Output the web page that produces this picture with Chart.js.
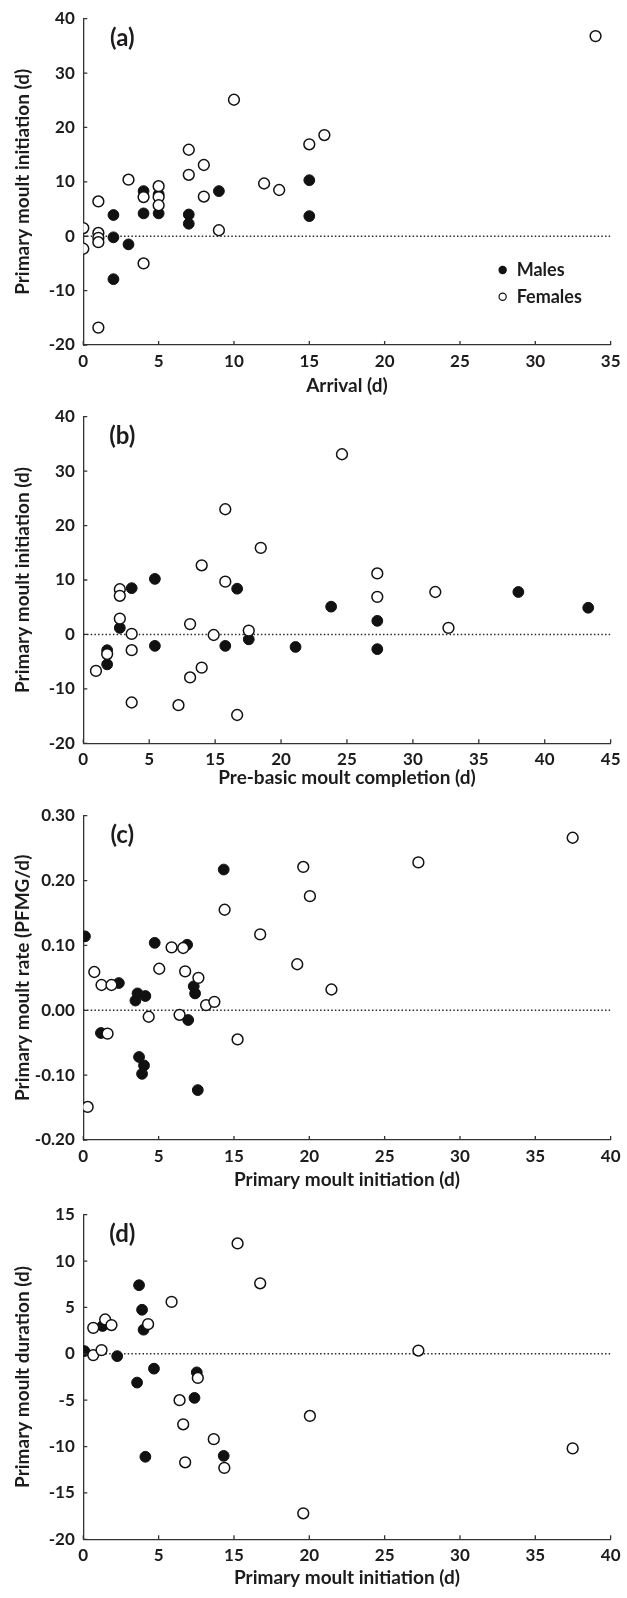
<!DOCTYPE html>
<html>
<head>
<meta charset="utf-8">
<script src="https://cdn.jsdelivr.net/npm/chart.js@4.4.0/dist/chart.umd.min.js"></script>
<style>
  body { margin: 0; background: #fff; }
  #wrap { width: 627px; }
  canvas { display: block; }
</style>
</head>
<body>
<div id="wrap">
  <canvas id="panelA" width="627" height="398"></canvas>
  <canvas id="panelB" width="627" height="399"></canvas>
  <canvas id="panelC" width="627" height="399"></canvas>
  <canvas id="panelD" width="627" height="402"></canvas>
</div>
<script>
// x tick labels, one per 5-unit step of each axis
const ticksArrival = ['0', '5', '10', '15', '20', '25', '30', '35'];
const ticksCompletion = ['0', '5', '15', '20', '25', '30', '35', '40', '45'];
const ticksInitiation = ['0', '5', '15', '20', '25', '30', '35', '40'];

// (a) arrival vs primary moult initiation
const arrivalMalesX = [2, 2, 2, 3, 4, 4, 5, 5, 7, 7, 9, 15, 15];
const arrivalMalesY = [3.9, -0.2, -7.9, -1.5, 8.3, 4.2, 7.7, 4.2, 4.0, 2.3, 8.3, 10.3, 3.7];
const arrivalFemalesX = [0, 0, 1, 1, 1, 1, 1, 3, 4, 4, 5, 5, 5, 7, 7, 8, 8, 9, 10, 12, 13, 15, 16, 34];
const arrivalFemalesY = [1.5, -2.3, 6.4, 0.6, -0.3, -1.1, -16.8, 10.4, 7.2, -5.0, 9.2, 7.2, 5.7, 15.9, 11.3, 13.1, 7.3, 1.1, 25.1, 9.7, 8.5, 16.9, 18.6, 36.8];

// (b) pre-basic moult completion vs primary moult initiation
const completionMalesX = [1.81, 1.81, 2.77, 3.67, 5.43, 5.43, 10.77, 11.67, 12.55, 16.1, 18.8, 22.3, 22.3, 33.0, 38.3];
const completionMalesY = [-2.9, -5.5, 1.2, 8.5, 10.2, -2.1, -2.1, 8.4, -0.9, -2.3, 5.1, 2.5, -2.7, 7.8, 4.9];
const completionFemalesX = [0.96, 1.81, 2.77, 2.77, 2.77, 3.67, 3.67, 3.67, 7.22, 8.1, 8.1, 8.98, 8.98, 9.89, 10.77, 10.77, 11.67, 12.55, 13.46, 19.62, 22.3, 22.3, 26.7, 27.7];
const completionFemalesY = [-6.7, -3.6, 8.3, 7.1, 2.9, 0.1, -2.9, -12.5, -13.0, 1.9, -7.9, 12.7, -6.1, -0.1, 23.0, 9.7, -14.8, 0.7, 15.9, 33.1, 11.2, 6.9, 7.8, 1.2];

// (c) primary moult initiation vs moult rate
const rateMalesX = [0.11, 1.17, 2.36, 3.46, 3.6, 4.12, 3.7, 4.03, 3.9, 4.74, 6.89, 6.96, 7.33, 7.42, 7.6, 9.32];
const rateMalesY = [0.114, -0.035, 0.042, 0.015, 0.026, 0.022, -0.072, -0.085, -0.098, 0.104, 0.101, -0.015, 0.037, 0.026, -0.123, 0.217];
const rateFemalesX = [0.29, 0.73, 1.21, 1.87, 1.61, 4.34, 5.04, 5.86, 6.63, 6.39, 6.76, 7.64, 8.15, 8.7, 9.38, 10.24, 11.74, 14.2, 14.6, 15.04, 16.47, 22.24, 32.48];
const rateFemalesY = [-0.149, 0.059, 0.039, 0.039, -0.036, -0.010, 0.064, 0.097, 0.096, -0.007, 0.060, 0.050, 0.008, 0.013, 0.155, -0.045, 0.117, 0.071, 0.221, 0.176, 0.032, 0.228, 0.266];

// (d) primary moult initiation vs moult duration
const durationMalesX = [0.07, 1.28, 2.25, 3.57, 3.7, 3.9, 4.0, 4.12, 4.69, 7.38, 7.53, 9.32];
const durationMalesY = [0.3, 3.0, -0.25, -3.1, 7.4, 4.75, 2.6, -11.1, -1.6, -4.75, -2.0, -11.0];
const durationFemalesX = [0.66, 0.66, 1.21, 1.45, 1.87, 4.3, 5.86, 6.39, 6.63, 6.76, 7.6, 8.66, 9.36, 10.24, 11.74, 14.6, 15.04, 22.24, 32.48];
const durationFemalesY = [-0.14, 2.8, 0.4, 3.7, 3.1, 3.2, 5.6, -5.0, -7.6, -11.7, -2.6, -9.2, -12.3, 11.9, 7.6, -17.2, -6.7, 0.35, -10.2];

const INK = '#1e1b1c';
const AXIS = '#333333';
const FONT = 'Lato, "Open Sans", sans-serif';

const zip = (xs, ys) => xs.map((x, i) => ({ x: x, y: ys[i] }));

// short tick marks pointing into the plot area
const innerTicks = {
    id: 'innerTicks',
    afterDraw(chart) {
        const { ctx, chartArea: area, scales: { x, y } } = chart;
        ctx.save();
        ctx.strokeStyle = AXIS;
        ctx.lineWidth = 1.3;
        ctx.beginPath();
        x.ticks.forEach(t => {
            const px = x.getPixelForValue(t.value);
            ctx.moveTo(px, area.bottom);
            ctx.lineTo(px, area.bottom - 4);
        });
        y.ticks.forEach(t => {
            const py = y.getPixelForValue(t.value);
            ctx.moveTo(area.left, py);
            ctx.lineTo(area.left + 4, py);
        });
        ctx.stroke();
        ctx.restore();
    }
};

// "(a)", "(b)" ... in the top left corner
const panelLabel = {
    id: 'panelLabel',
    afterDraw(chart, args, opts) {
        const { ctx, chartArea: area } = chart;
        ctx.save();
        ctx.font = `bold 24px ${FONT}`;
        ctx.fillStyle = INK;
        ctx.textAlign = 'center';
        ctx.textBaseline = 'middle';
        ctx.fillText(opts.text, area.left + 39, area.top + 20);
        ctx.restore();
    }
};

// males / females key, built from the scatter datasets
const sexKey = {
    id: 'sexKey',
    afterDraw(chart, args, opts) {
        if (!opts.show) return;
        const { ctx, chartArea: area } = chart;
        const rows = chart.data.datasets.filter(d => d.label).sort((a, b) => b.order - a.order);
        ctx.save();
        ctx.font = `bold 18px ${FONT}`;
        rows.forEach((d, i) => {
            const cx = area.right - 108;
            const cy = area.bottom - 75 + i * 26.7;
            ctx.beginPath();
            ctx.arc(cx, cy, 3.6, 0, Math.PI * 2);
            ctx.fillStyle = d.pointBackgroundColor;
            ctx.fill();
            ctx.lineWidth = 1.2;
            ctx.strokeStyle = d.pointBorderColor;
            ctx.stroke();
            ctx.fillStyle = INK;
            ctx.textBaseline = 'alphabetic';
            ctx.fillText(d.label, cx + 14, cy + 6.3);
        });
        ctx.restore();
    }
};

function drawPanel(id, cfg) {
    const tickFont = { family: FONT, size: 17, weight: 'bold' };
    const titleFont = { family: FONT, size: 19, weight: 'bold', lineHeight: 1 };

    return new Chart(document.getElementById(id), {
        type: 'scatter',
        data: {
            datasets: [
                {
                    label: 'Females',
                    data: zip(cfg.fx, cfg.fy),
                    order: 0,
                    pointRadius: 5.4,
                    pointBackgroundColor: '#ffffff',
                    pointBorderColor: '#111111',
                    pointBorderWidth: 1.5
                },
                {
                    label: 'Males',
                    data: zip(cfg.mx, cfg.my),
                    order: 1,
                    pointRadius: 5.4,
                    pointBackgroundColor: '#111111',
                    pointBorderColor: '#111111',
                    pointBorderWidth: 1
                },
                {
                    // dotted zero reference
                    type: 'line',
                    data: [{ x: 0, y: 0 }, { x: cfg.xMax, y: 0 }],
                    order: 2,
                    borderColor: '#2a2a2a',
                    borderWidth: 1.5,
                    borderDash: [1.5, 2.2],
                    pointRadius: 0
                }
            ]
        },
        options: {
            responsive: false,
            animation: false,
            devicePixelRatio: 1,
            events: [],
            layout: { padding: { top: cfg.top, right: 13.7, left: 0, bottom: 0 } },
            plugins: {
                legend: { display: false },
                tooltip: { enabled: false },
                panelLabel: { text: cfg.label },
                sexKey: { show: !!cfg.key }
            },
            scales: {
                x: {
                    type: 'linear',
                    min: 0,
                    max: cfg.xMax,
                    grid: { display: false, drawTicks: false },
                    border: { display: true, color: AXIS, width: 1.3 },
                    ticks: {
                        stepSize: 5,
                        padding: 6.5,
                        color: INK,
                        font: tickFont,
                        maxRotation: 0,
                        autoSkip: false,
                        callback: v => cfg.xTicks[Math.round(v / 5)]
                    },
                    title: {
                        display: true,
                        text: cfg.xTitle,
                        color: INK,
                        font: titleFont,
                        padding: { top: 0, bottom: cfg.titleGap }
                    },
                    afterFit: s => { s.height = cfg.below; }
                },
                y: {
                    type: 'linear',
                    min: cfg.yMin,
                    max: cfg.yMax,
                    grid: { display: false, drawTicks: false },
                    border: { display: true, color: AXIS, width: 1.3 },
                    ticks: {
                        stepSize: cfg.yStep,
                        padding: 8.5,
                        color: INK,
                        font: tickFont,
                        callback: v => cfg.yDigits ? v.toFixed(cfg.yDigits) : String(Math.round(v))
                    },
                    title: {
                        display: true,
                        text: cfg.yTitle,
                        color: INK,
                        font: titleFont,
                        padding: { top: 13, bottom: 0 }
                    },
                    afterFit: s => { s.width = 83.3; }
                }
            }
        },
        plugins: [innerTicks, panelLabel, sexKey]
    });
}

drawPanel('panelA', {
    label: '(a)', key: true,
    mx: arrivalMalesX, my: arrivalMalesY, fx: arrivalFemalesX, fy: arrivalFemalesY,
    xMax: 35, xTicks: ticksArrival, xTitle: 'Arrival (d)',
    yMin: -20, yMax: 40, yStep: 10, yTitle: 'Primary moult initiation (d)',
    top: 18.3, below: 53, titleGap: 2.5
});

drawPanel('panelB', {
    label: '(b)',
    mx: completionMalesX, my: completionMalesY, fx: completionFemalesX, fy: completionFemalesY,
    xMax: 40, xTicks: ticksCompletion, xTitle: 'Pre-basic moult completion (d)',
    yMin: -20, yMax: 40, yStep: 10, yTitle: 'Primary moult initiation (d)',
    top: 18.7, below: 53.7, titleGap: 9.5
});

drawPanel('panelC', {
    label: '(c)',
    mx: rateMalesX, my: rateMalesY, fx: rateFemalesX, fy: rateFemalesY,
    xMax: 35, xTicks: ticksInitiation, xTitle: 'Primary moult initiation (d)',
    yMin: -0.2, yMax: 0.3, yStep: 0.1, yDigits: 2, yTitle: 'Primary moult rate (PFMG/d)',
    top: 18, below: 56, titleGap: 6.5
});

drawPanel('panelD', {
    label: '(d)',
    mx: durationMalesX, my: durationMalesY, fx: durationFemalesX, fy: durationFemalesY,
    xMax: 35, xTicks: ticksInitiation, xTitle: 'Primary moult initiation (d)',
    yMin: -20, yMax: 15, yStep: 5, yTitle: 'Primary moult duration (d)',
    top: 16.7, below: 58.7, titleGap: 10.5
});
</script>
</body>
</html>
